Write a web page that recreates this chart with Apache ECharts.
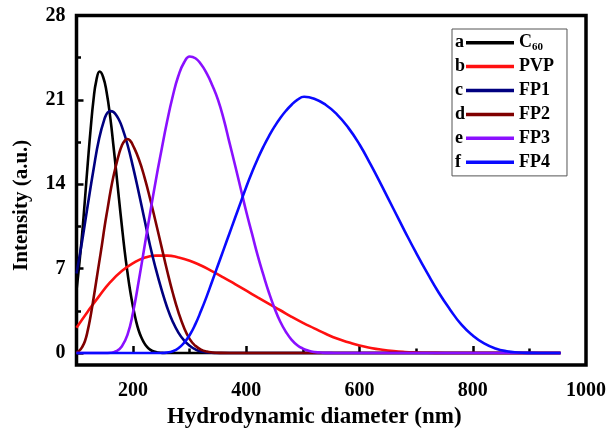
<!DOCTYPE html>
<html>
<head>
<meta charset="utf-8">
<script src="https://cdn.jsdelivr.net/npm/echarts@6/dist/echarts.min.js"></script>
<style>
  html, body { margin: 0; padding: 0; background: #fff; }
  #chart { width: 611px; height: 434px; }
</style>
</head>
<body>
<div id="chart"></div>
<script>
// Size distributions, [diameter (nm), intensity (a.u.)]
const c60 = [[100,5.2],[105,7.4],[110,9.9],[115,12.8],[120,15.8],[125,18.6],[130,21.0],[135,22.6],[141,23.35],[147,22.9],[153,21.7],[160,19.4],[165,17.3],[170,15.1],[175,12.8],[180,10.6],[185,8.5],[190,6.7],[195,5.1],[200,3.8],[205,2.7],[210,1.85],[215,1.25],[220,0.8],[225,0.5],[230,0.28],[237,0.12],[245,0.04],[255,0.01],[265,0],[955,0]];
const pvp = [[100,2.1],[120,3.45],[140,4.72],[160,5.9],[180,6.8],[200,7.45],[220,7.9],[240,8.08],[260,8.08],[280,7.93],[300,7.66],[320,7.26],[340,6.78],[360,6.26],[380,5.72],[400,5.17],[420,4.62],[440,4.08],[460,3.55],[480,3.0],[500,2.5],[520,2.05],[540,1.6],[560,1.2],[580,0.9],[600,0.62],[620,0.42],[640,0.27],[660,0.16],[680,0.09],[700,0.05],[720,0.025],[750,0.008],[780,0],[955,0]];
const fp1 = [[100,6.6],[110,9.3],[120,12.3],[130,15.2],[140,17.8],[150,19.5],[155,19.95],[160,20.07],[165,20.0],[170,19.75],[175,19.35],[180,18.8],[190,17.3],[200,15.4],[210,13.3],[220,11.1],[230,8.9],[240,7.0],[250,5.3],[260,3.8],[270,2.6],[280,1.7],[290,1.05],[300,0.6],[310,0.3],[320,0.13],[335,0.04],[350,0],[955,0]];
const fp2 = [[100,0.05],[105,0.2],[110,0.5],[115,1.0],[120,1.9],[125,3.1],[130,4.5],[135,6.0],[140,7.5],[145,9.0],[150,10.6],[155,12.0],[160,13.4],[165,14.6],[170,15.6],[175,16.5],[180,17.2],[185,17.6],[190,17.76],[195,17.6],[200,17.2],[210,16.1],[220,14.6],[230,12.8],[240,10.85],[250,8.85],[260,6.85],[270,5.0],[280,3.4],[290,2.1],[300,1.15],[310,0.6],[320,0.28],[330,0.12],[340,0.05],[355,0.01],[370,0],[955,0]];
const fp3 = [[100,0],[150,0],[160,0.02],[170,0.15],[180,0.55],[190,1.5],[200,3.4],[210,6.0],[220,8.8],[230,11.6],[240,14.3],[250,16.8],[260,19.2],[270,21.3],[280,23.0],[290,24.1],[300,24.6],[310,24.45],[320,23.95],[330,23.2],[340,22.2],[350,21.0],[360,19.4],[370,17.5],[380,15.6],[390,13.65],[400,11.7],[410,9.9],[420,8.1],[430,6.5],[440,5.0],[450,3.7],[460,2.6],[470,1.75],[480,1.1],[490,0.65],[500,0.37],[510,0.19],[520,0.09],[535,0.03],[550,0.01],[565,0],[955,0]];
const fp4 = [[100,0],[250,0],[260,0.04],[270,0.15],[280,0.4],[290,0.85],[300,1.5],[310,2.4],[320,3.5],[330,4.7],[340,6.0],[350,7.3],[360,8.6],[370,9.9],[380,11.2],[390,12.5],[400,13.8],[410,15.0],[420,16.1],[430,17.1],[440,18.0],[450,18.8],[460,19.5],[470,20.1],[480,20.6],[490,21.0],[502,21.26],[520,21.1],[540,20.6],[560,19.8],[580,18.7],[600,17.3],[620,15.6],[640,13.8],[660,11.95],[680,10.1],[700,8.3],[720,6.6],[740,5.0],[760,3.6],[780,2.35],[800,1.45],[820,0.8],[840,0.38],[860,0.15],[880,0.05],[900,0.01],[920,0],[955,0]];

const seriesNames = ['C60', 'PVP', 'FP1', 'FP2', 'FP3', 'FP4'];
const seriesLetters = ['a', 'b', 'c', 'd', 'e', 'f'];
const seriesData = [c60, pvp, fp1, fp2, fp3, fp4];
const seriesColors = ['#000000', '#ff1010', '#000080', '#800000', '#8a10ff', '#0a0aff'];

// Axis ticks and labels
const xLabels = [200, 400, 600, 800, 1000];
const xMajorTicks = [200, 400, 600, 800];
const xMinorTicks = [300, 500, 700, 900];
const yLabels = [0, 7, 14, 21, 28];
const yMajorTicks = [0, 7, 14, 21];
const yMinorTicks = [3.5, 10.5, 17.5, 24.5];

const FONT = '"Liberation Serif", "Times New Roman", serif';
const X_MIN = 100, X_MAX = 1000, Y_MIN = -1, Y_MAX = 28;

// Legend geometry (rows are fixed-height so the letters line up)
const LEG_LEFT = 452, LEG_TOP = 29, LEG_PAD_TOP = 3.7, ROW_H = 20, ROW_GAP = 3.9;

const chart = echarts.init(document.getElementById('chart'), null, { renderer: 'canvas' });

const tickLine = { color: '#000', width: 2.5 };
const plainNumber = v => String(v);

const option = {
  backgroundColor: '#fff',
  animation: false,
  grid: {
    left: 76.5, right: 25, top: 15.5, bottom: 58.5,
    show: true, borderColor: '#000', borderWidth: 3.5, backgroundColor: 'transparent'
  },
  xAxis: [
    {
      type: 'value', min: X_MIN, max: X_MAX, position: 'bottom',
      name: 'Hydrodynamic diameter (nm)', nameLocation: 'middle', nameGap: 31,
      nameTextStyle: { fontFamily: FONT, fontWeight: 'bold', fontSize: 23, color: '#000', padding: [0, 34, 0, 0] },
      axisLine: { show: false },
      splitLine: { show: false },
      axisTick: { show: true, inside: true, length: 7, customValues: xMajorTicks, lineStyle: tickLine },
      axisLabel: { customValues: xLabels, formatter: plainNumber, margin: 16, fontFamily: FONT, fontWeight: 'bold', fontSize: 20, color: '#000' }
    },
    {
      type: 'value', min: X_MIN, max: X_MAX, position: 'bottom',
      axisLine: { show: false }, splitLine: { show: false }, axisLabel: { show: false },
      axisTick: { show: true, inside: true, length: 4.5, customValues: xMinorTicks, lineStyle: tickLine }
    }
  ],
  yAxis: [
    {
      type: 'value', min: Y_MIN, max: Y_MAX, position: 'left',
      name: 'Intensity (a.u.)', nameLocation: 'middle', nameGap: 44,
      nameTextStyle: { fontFamily: FONT, fontWeight: 'bold', fontSize: 21, color: '#000', padding: [0, 30, 0, 0] },
      axisLine: { show: false },
      splitLine: { show: false },
      axisTick: { show: true, inside: true, length: 7, customValues: yMajorTicks, lineStyle: tickLine },
      axisLabel: { customValues: yLabels, formatter: plainNumber, margin: 11, fontFamily: FONT, fontWeight: 'bold', fontSize: 20, color: '#000' }
    },
    {
      type: 'value', min: Y_MIN, max: Y_MAX, position: 'left',
      axisLine: { show: false }, splitLine: { show: false }, axisLabel: { show: false },
      axisTick: { show: true, inside: true, length: 4.5, customValues: yMinorTicks, lineStyle: tickLine }
    }
  ],
  legend: {
    orient: 'vertical',
    left: LEG_LEFT, top: LEG_TOP,
    padding: [LEG_PAD_TOP, 13, LEG_PAD_TOP, 14],
    borderColor: '#555', borderWidth: 1,
    icon: 'rect',
    itemWidth: 48, itemHeight: 3.5, itemGap: ROW_GAP,
    data: seriesNames,
    formatter: name => name === 'C60' ? 'C{sub|60}' : name,
    textStyle: {
      fontFamily: FONT, fontWeight: 'bold', fontSize: 18, color: '#000', lineHeight: ROW_H,
      rich: { sub: { fontFamily: FONT, fontWeight: 'bold', fontSize: 11, color: '#000', verticalAlign: 'bottom', lineHeight: 14 } }
    }
  },
  graphic: seriesLetters.map((letter, i) => ({
    type: 'text',
    style: {
      text: letter,
      x: LEG_LEFT + 3,
      y: LEG_TOP + LEG_PAD_TOP + ROW_H / 2 + i * (ROW_H + ROW_GAP),
      fill: '#000',
      font: 'bold 18px ' + FONT,
      verticalAlign: 'middle'
    },
    z: 100
  })),
  series: seriesNames.map((name, i) => ({
    name,
    type: 'line',
    data: seriesData[i],
    smooth: 0.5,
    symbol: 'none',
    lineStyle: { color: seriesColors[i], width: 2.6 },
    itemStyle: { color: seriesColors[i] },
    xAxisIndex: 0, yAxisIndex: 0,
    z: 2 + i
  }))
};

chart.setOption(option);
</script>
</body>
</html>
